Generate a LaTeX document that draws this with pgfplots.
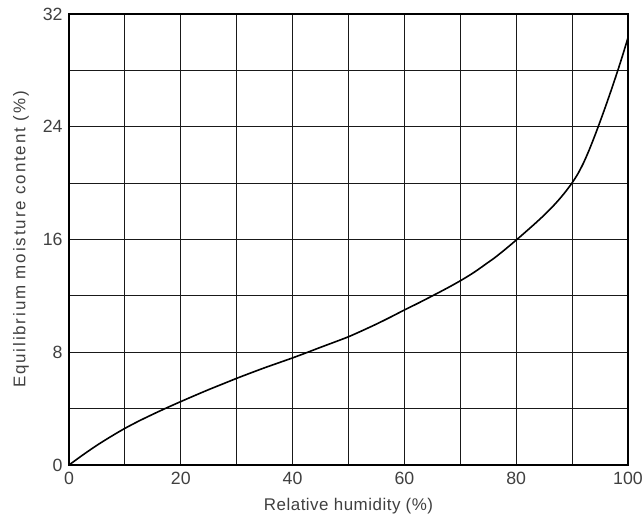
\documentclass[border=0pt]{standalone}
\usepackage{fontspec}
\setmainfont{Liberation Sans}
\usepackage{pgfplots}
\pgfplotsset{compat=1.18}

\newcommand{\lblfont}{\fontsize{17}{20}\selectfont}
\newcommand{\tckfont}{\fontsize{17.8}{20}\selectfont}

\begin{document}
\begin{tikzpicture}
\useasboundingbox (-69bp,-52bp) rectangle (573bp,465bp);
\begin{axis}[
    scale only axis,
    width=559bp, height=451bp,
    xmin=0, xmax=100, ymin=0, ymax=32,
    xtick={0,20,...,100}, minor xtick={10,30,...,90},
    ytick={0,8,...,32}, minor ytick={4,12,20,28},
    grid=both,
    major grid style={black!90, line width=1.2bp},
    minor grid style={black!90, line width=1.2bp},
    major tick length=0pt, minor tick length=0pt,
    axis line style={black, line width=2.8bp},
    /pgf/number format/assume math mode=true,
    xticklabel style={font=\tckfont, text=black!75, anchor=north, yshift=-4bp},
    yticklabel style={font=\tckfont, text=black!75, anchor=east, xshift=-3bp},
    xlabel={\addfontfeature{LetterSpace=3}Relative humidity (\%)},
    ylabel={\addfontfeature{LetterSpace=11}Equilibrium moisture content (\%)},
    xlabel style={font=\lblfont, text=black!75, at={(axis description cs:0.5,0)}, anchor=center, yshift=-41bp},
    ylabel style={font=\lblfont, text=black!75, at={(axis description cs:-0.0859,0.5)}, anchor=center},
]
\addplot[black, line width=1.6bp, smooth, tension=0.5] coordinates {
    (0,0) (2.5,0.72) (5,1.4) (7.5,2.02) (10,2.6) (12.5,3.12) (15,3.6)
    (17.5,4.06) (20,4.5) (22.5,4.93) (25,5.35) (27.5,5.75) (30,6.15)
    (32.5,6.53) (35,6.9) (37.5,7.25) (40,7.6) (42.5,7.97) (45,8.35)
    (47.5,8.72) (50,9.1) (52.5,9.54) (55,10.0) (57.5,10.49) (60,11.0)
    (62.5,11.49) (65,12.0) (67.5,12.52) (70,13.07) (72.5,13.68)
    (75,14.38) (76,14.66) (77,14.97) (78,15.29) (79,15.62) (80,15.96)
    (81,16.3) (82,16.65) (83,17.0) (84,17.36) (85,17.73) (86,18.12)
    (87,18.54) (88,18.99) (89,19.48) (90,20.02) (91,20.64) (92,21.4)
    (93,22.3) (94,23.3) (95,24.36) (96,25.46) (97,26.6) (98,27.78)
    (99,29.02) (100,30.32)
};
\end{axis}
\end{tikzpicture}
\end{document}
